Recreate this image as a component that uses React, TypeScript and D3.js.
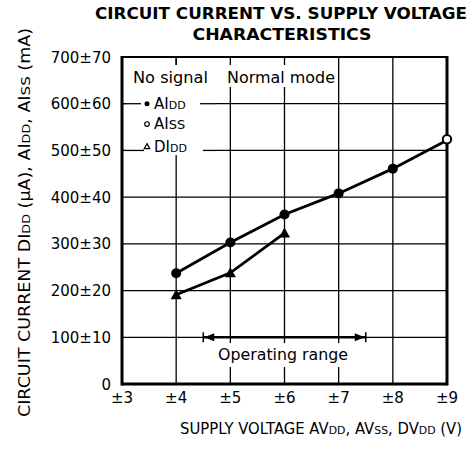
import React from "react";
import * as d3 from "d3";

const xTicks = [3, 4, 5, 6, 7, 8, 9];
const xTickLabels = ["±3", "±4", "±5", "±6", "±7", "±8", "±9"];
const yTicks = [0, 100, 200, 300, 400, 500, 600, 700];
const yTickLabels = ["0", "100±10", "200±20", "300±30", "400±40", "500±50", "600±60", "700±70"];

const aiddX = [4, 5, 6, 7, 8, 9];
const aiddY = [237, 303, 363, 408, 461, 522];
const aissX = [9];
const aissY = [524];
const diddX = [4, 5, 6];
const diddY = [191, 238, 323];
const operatingRange = [4.5, 7.5];

const W = 475, H = 454;
const L = 122, R = 447, T = 57, B = 384;

export default function App() {
  const x = d3.scaleLinear().domain([3, 9]).range([L, R]);
  const y = d3.scaleLinear().domain([0, 700]).range([B, T]);
  const line = d3.line<[number, number]>().x(d => x(d[0])).y(d => y(d[1]));
  const aidd = aiddX.map((v, i) => [v, aiddY[i]] as [number, number]);
  const didd = diddX.map((v, i) => [v, diddY[i]] as [number, number]);
  const font = "'DejaVu Sans', 'Liberation Sans', Arial, sans-serif";
  const tri = (cx: number, cy: number, s: number) =>
    `M${cx},${cy - s}L${cx + s},${cy + s * 0.8}L${cx - s},${cy + s * 0.8}Z`;
  const oy = y(100);
  const ox0 = x(operatingRange[0]), ox1 = x(operatingRange[1]);
  const gw = 1.3;
  return (
    <svg width={W} height={H} style={{ position: "absolute", left: 0, top: 0 }} fontFamily={font}>
      <rect width={W} height={H} fill="#fff" />
      <text x={281} y={19} textAnchor="middle" fontWeight="bold" fontSize={15.5} textLength={372} lengthAdjust="spacingAndGlyphs">CIRCUIT CURRENT VS. SUPPLY VOLTAGE</text>
      <text x={282} y={40} textAnchor="middle" fontWeight="bold" fontSize={15.5} textLength={179} lengthAdjust="spacingAndGlyphs">CHARACTERISTICS</text>
      {/* grid */}
      {yTicks.slice(1, -1).map(t => (
        <line key={"h" + t} x1={L} x2={R} y1={y(t)} y2={y(t)} stroke="#000" strokeWidth={gw} />
      ))}
      {xTicks.slice(1, -1).map(t => (
        <line key={"v" + t} x1={x(t)} x2={x(t)} y1={T} y2={B} stroke="#000" strokeWidth={gw} />
      ))}
      {/* legend backgrounds */}
      <rect x={125} y={65} width={210} height={22} fill="#fff" />
      <rect x={125} y={87} width={90} height={68} fill="#fff" />
      <line x1={L} x2={141} y1={y(600)} y2={y(600)} stroke="#000" strokeWidth={gw} />
      <line x1={L} x2={144} y1={y(500)} y2={y(500)} stroke="#000" strokeWidth={gw} />
      <line x1={200} x2={215} y1={y(600)} y2={y(600)} stroke="#000" strokeWidth={gw} />
      <line x1={203} x2={215} y1={y(500)} y2={y(500)} stroke="#000" strokeWidth={gw} />
      <line x1={x(4)} x2={x(4)} y1={T} y2={65} stroke="#000" strokeWidth={gw} />
      <text x={133} y={83} fontSize={15.5} textLength={75} lengthAdjust="spacingAndGlyphs">No signal</text>
      <text x={227} y={83} fontSize={15.5} textLength={108} lengthAdjust="spacingAndGlyphs">Normal mode</text>
      <circle cx={147} cy={y(600)} r={2.5} fill="#000" />
      <text x={154} y={y(600) + 5} fontSize={15}>AI<tspan fontSize={11}>DD</tspan></text>
      <circle cx={147} cy={y(550) - 3} r={2.3} fill="#fff" stroke="#000" strokeWidth={1.2} />
      <text x={154} y={y(550) + 2} fontSize={15}>AI<tspan fontSize={13}>SS</tspan></text>
      <path d={tri(147, y(500) - 4, 2.8)} fill="#fff" stroke="#000" strokeWidth={1.2} />
      <text x={154} y={y(500) + 2} fontSize={15}>DI<tspan fontSize={11}>DD</tspan></text>
      {/* operating range */}
      <rect x={214} y={343} width={138} height={24} fill="#fff" />
      <text x={283} y={360} textAnchor="middle" fontSize={15.5} textLength={130} lengthAdjust="spacingAndGlyphs">Operating range</text>
      <line x1={ox0} x2={ox1} y1={oy} y2={oy} stroke="#000" strokeWidth={2.4} />
      <line x1={ox0} x2={ox0} y1={oy - 5} y2={oy + 5} stroke="#000" strokeWidth={1.5} />
      <line x1={ox1} x2={ox1} y1={oy - 5} y2={oy + 5} stroke="#000" strokeWidth={1.5} />
      <path d={`M${ox0 + 1},${oy}L${ox0 + 11},${oy - 4}L${ox0 + 11},${oy + 4}Z`} fill="#000" />
      <path d={`M${ox1 - 1},${oy}L${ox1 - 11},${oy - 4}L${ox1 - 11},${oy + 4}Z`} fill="#000" />
      {/* frame */}
      <line x1={L} x2={R} y1={T} y2={T} stroke="#000" strokeWidth={2} />
      <line x1={L} x2={L} y1={T - 1} y2={B + 1.5} stroke="#000" strokeWidth={3} />
      <line x1={R} x2={R} y1={T - 1} y2={B + 1.5} stroke="#000" strokeWidth={3} />
      <line x1={L} x2={R} y1={B} y2={B} stroke="#000" strokeWidth={3} />
      {/* data */}
      <path d={line(aidd) || ""} fill="none" stroke="#000" strokeWidth={2.8} />
      <path d={line(didd) || ""} fill="none" stroke="#000" strokeWidth={2.8} />
      {aidd.slice(0, -1).map((d, i) => (
        <circle key={"a" + i} cx={x(d[0])} cy={y(d[1])} r={5} fill="#000" />
      ))}
      {aissX.map((v, i) => (
        <circle key={"s" + i} cx={x(v)} cy={y(aissY[i])} r={4.2} fill="#fff" stroke="#000" strokeWidth={2} />
      ))}
      {didd.map((d, i) => (
        <path key={"d" + i} d={tri(x(d[0]), y(d[1]), 5.5)} fill="#000" />
      ))}
      {/* y ticks */}
      {yTicks.map((t, i) => (
        <text key={"yt" + t} x={111} y={y(t) + 5.5} textAnchor="end" fontSize={15}>{yTickLabels[i]}</text>
      ))}
      {xTicks.map((t, i) => (
        <text key={"xt" + t} x={x(t)} y={403} textAnchor="middle" fontSize={15}>{xTickLabels[i]}</text>
      ))}
      <text x={180} y={434} fontSize={15} textLength={282} lengthAdjust="spacingAndGlyphs">SUPPLY VOLTAGE AV<tspan fontSize={11}>DD</tspan>, AV<tspan fontSize={11}>SS</tspan>, DV<tspan fontSize={11}>DD</tspan> (V)</text>
      <text transform={`translate(30,417) rotate(-90)`} fontSize={15} textLength={389} lengthAdjust="spacingAndGlyphs">CIRCUIT CURRENT DI<tspan fontSize={11}>DD</tspan> (µA), AI<tspan fontSize={11}>DD</tspan>, AI<tspan fontSize={13}>SS</tspan> (mA)</text>
    </svg>
  );
}
